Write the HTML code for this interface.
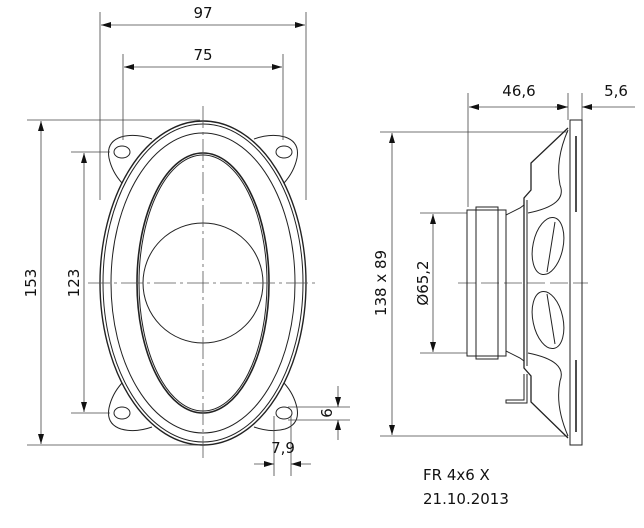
<!DOCTYPE html>
<html><head><meta charset="utf-8"><style>
html,body{margin:0;padding:0;background:#fff}
svg{display:block}
text{font-family:"DejaVu Sans","Liberation Sans",sans-serif;fill:#111}
</style></head><body>
<svg width="644" height="528" viewBox="0 0 644 528" xmlns="http://www.w3.org/2000/svg">
<defs>
<marker id="a" viewBox="0 0 10 6" refX="10" refY="3" markerWidth="10" markerHeight="6" orient="auto-start-reverse" markerUnits="userSpaceOnUse"><path d="M0,0 L10,3 L0,6 Z" fill="#111"/></marker>
</defs>
<g fill="none" stroke="#222" stroke-width="1">
<!-- ears -->
<path id="ear" d="M152 139 Q135 133 121 137 Q106 142 109 158 Q112 172 122 183"/>
<use href="#ear" transform="translate(406,0) scale(-1,1)"/>
<use href="#ear" transform="translate(0,566) scale(1,-1)"/>
<use href="#ear" transform="translate(406,566) scale(-1,-1)"/>
<ellipse cx="122" cy="152" rx="8" ry="6"/>
<ellipse cx="284" cy="152" rx="8" ry="6"/>
<ellipse cx="122" cy="413" rx="8" ry="6"/>
<ellipse cx="284" cy="413" rx="8" ry="6"/>
<!-- front ellipses -->
<ellipse cx="203" cy="283" rx="103" ry="162" stroke-width="1.4" fill="#fff"/>
<ellipse cx="203" cy="283" rx="100" ry="159"/>
<ellipse cx="203" cy="283" rx="92" ry="150"/>
<ellipse cx="203" cy="283" rx="66" ry="130" stroke-width="1.6"/>
<ellipse cx="203" cy="283" rx="64" ry="128"/>
<circle cx="203" cy="283" r="60"/>
</g>
<!-- centerlines -->
<g stroke="#555" stroke-width="0.8" fill="none" stroke-dasharray="22,4,3,4">
<line x1="88" y1="283" x2="316" y2="283"/>
<line x1="203" y1="106" x2="203" y2="460"/>
<line x1="458" y1="283" x2="588" y2="283" stroke-dasharray="18,5"/>
</g>
<!-- dimension lines -->
<g stroke="#444" stroke-width="0.8" fill="none">
<line x1="100" y1="12" x2="100" y2="200"/><line x1="306" y1="12" x2="306" y2="200"/>
<line x1="101" y1="25" x2="305" y2="25" marker-start="url(#a)" marker-end="url(#a)"/>
<line x1="123" y1="54" x2="123" y2="140"/><line x1="283" y1="54" x2="283" y2="140"/>
<line x1="124" y1="67" x2="282" y2="67" marker-start="url(#a)" marker-end="url(#a)"/>
<line x1="27" y1="120" x2="200" y2="120"/><line x1="27" y1="445" x2="200" y2="445"/>
<line x1="41" y1="121" x2="41" y2="444" marker-start="url(#a)" marker-end="url(#a)"/>
<line x1="71" y1="152" x2="110" y2="152"/><line x1="71" y1="413" x2="110" y2="413"/>
<line x1="84" y1="153" x2="84" y2="412" marker-start="url(#a)" marker-end="url(#a)"/>
<line x1="288" y1="407" x2="350" y2="407"/><line x1="288" y1="420" x2="350" y2="420"/>
<line x1="338" y1="386" x2="338" y2="407" marker-end="url(#a)"/>
<line x1="338" y1="440" x2="338" y2="420" marker-end="url(#a)"/>
<line x1="274" y1="416" x2="274" y2="476"/><line x1="291" y1="416" x2="291" y2="476"/>
<line x1="254" y1="464" x2="274" y2="464" marker-end="url(#a)"/>
<line x1="311" y1="464" x2="291" y2="464" marker-end="url(#a)"/>
<!-- side view dims -->
<line x1="468" y1="93" x2="468" y2="207"/><line x1="568" y1="93" x2="568" y2="120"/><line x1="582" y1="93" x2="582" y2="120"/>
<line x1="469" y1="107" x2="567" y2="107" marker-start="url(#a)" marker-end="url(#a)"/>
<line x1="555" y1="107" x2="568" y2="107" marker-end="url(#a)"/>
<line x1="635" y1="107" x2="582" y2="107" marker-end="url(#a)"/>
<line x1="380" y1="132" x2="568" y2="132"/><line x1="380" y1="436" x2="568" y2="436"/>
<line x1="392" y1="133" x2="392" y2="435" marker-start="url(#a)" marker-end="url(#a)"/>
<line x1="420" y1="213" x2="467" y2="213"/><line x1="420" y1="353" x2="467" y2="353"/>
<line x1="433" y1="214" x2="433" y2="352" marker-start="url(#a)" marker-end="url(#a)"/>
</g>
<!-- side view -->
<g fill="none" stroke="#222" stroke-width="1">
<rect x="570" y="120" width="12" height="325"/>
<line x1="576" y1="136" x2="576" y2="212" stroke-width="1.6"/>
<line x1="576" y1="360" x2="576" y2="432" stroke-width="1.6"/>
<rect x="467" y="210" width="39" height="146"/>
<rect x="476" y="207" width="22" height="152"/>
<path d="M568 128 L531 163 L531 190 L524 198 L524 368 L531 376 L531 402 L568 438" stroke-width="1.3"/>
<path d="M506 215 L520 208 L524 205 M506 351 L520 358 L524 361"/>
<line x1="527" y1="200" x2="527" y2="366"/>
<path d="M568 130 Q555 160 560 185 Q568 205 528 213"/>
<path d="M568 436 Q555 406 560 381 Q568 361 528 353"/>
<ellipse cx="548" cy="246" rx="15" ry="29" transform="rotate(12 548 246)"/>
<ellipse cx="548" cy="320" rx="15" ry="29" transform="rotate(-12 548 320)"/>
<path d="M555 222 L547 272 M555 344 L547 294"/>
<path d="M524 374 L524 400 L506 400 L506 403 L527 403 L527 374"/>
</g>
<!-- text -->
<g font-size="15">
<text x="203" y="18" text-anchor="middle">97</text>
<text x="203" y="60" text-anchor="middle">75</text>
<text transform="translate(36,283) rotate(-90)" text-anchor="middle">153</text>
<text transform="translate(79,283) rotate(-90)" text-anchor="middle">123</text>
<text transform="translate(332,413) rotate(-90)" text-anchor="middle">6</text>
<text x="283" y="453" text-anchor="middle">7,9</text>
<text x="519" y="96" text-anchor="middle">46,6</text>
<text x="616" y="96" text-anchor="middle">5,6</text>
<text transform="translate(386,283) rotate(-90)" text-anchor="middle">138 x 89</text>
<text transform="translate(428,283) rotate(-90)" text-anchor="middle">Ø65,2</text>
<text x="423" y="480">FR 4x6 X</text>
<text x="423" y="504">21.10.2013</text>
</g>
</svg>
</body></html>
